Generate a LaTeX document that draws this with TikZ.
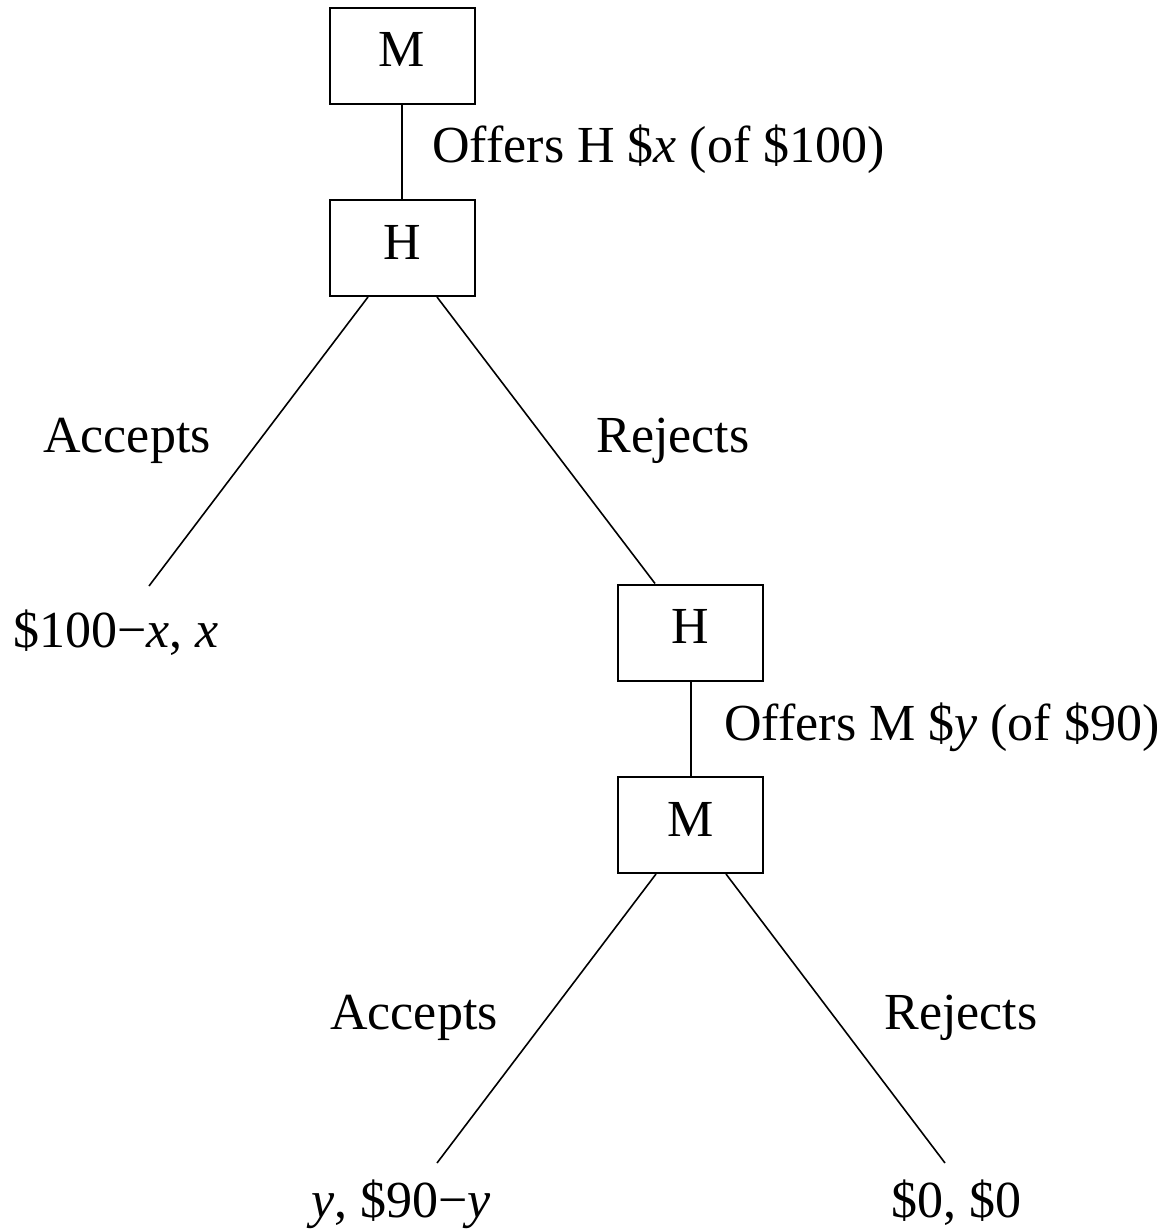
\documentclass[tikz,border=0pt]{standalone}
\usepackage{fontspec}
\setmainfont{Liberation Serif}
\usetikzlibrary{calc}
\begin{document}
\begin{tikzpicture}[x=0.5pt,y=-0.5pt,
  txt/.style={font=\fontsize{26}{30}\selectfont},
  box/.style={draw,line width=1pt,minimum width=72.5pt,minimum height=48pt,inner sep=0pt,txt,text height=17pt,text depth=6pt},
  lab/.style={inner sep=0pt,txt,anchor=base},
  edge/.style={line width=0.8pt},
  stem/.style={line width=1pt}]
\useasboundingbox (0,0) rectangle (1157,1230);
% boxes
\node[box] (m1) at (402,56) {M};
\node[box] (h1) at (402,248) {H};
\node[box] (h2) at (690.5,632.5) {H};
\node[box] (m2) at (690.5,825) {M};
% stems
\draw[stem] (m1.south) -- (h1.north);
\draw[stem] (h2.south) -- (m2.north);
% stem labels
\node[lab,anchor=base west] (o1) at (432,163) {Offers H \$\textit{x} (of \$100)};
\node[lab,anchor=base west] (o2) at (724,740) {Offers M \$\textit{y} (of \$90)};
% leaf ends
\coordinate (e1) at (149,586);
\coordinate (e2) at (437,1163);
\coordinate (e3) at (945,1163);
% branches
\draw[edge] ([xshift=-17pt]h1.south) -- (e1);
\draw[edge] ([xshift=17.5pt]h1.south) -- ([xshift=-17.75pt]h2.north);
\draw[edge] ([xshift=-17.25pt]m2.south) -- (e2);
\draw[edge] ([xshift=17.75pt]m2.south) -- (e3);
% branch labels
\node[lab] (a1) at (127,452) {Accepts};
\node[lab] (r1) at (673,452) {Rejects};
\node[lab] (a2) at (414,1029) {Accepts};
\node[lab] (r2) at (961,1029) {Rejects};
% payoffs
\node[lab] (p1) at (116,647) {\$100−\textit{x}, \textit{x}};
\node[lab] (p2) at (401,1217) {\textit{y}, \$90−\textit{y}};
\node[lab] (p3) at (956,1217) {\$0, \$0};
\end{tikzpicture}
\end{document}
